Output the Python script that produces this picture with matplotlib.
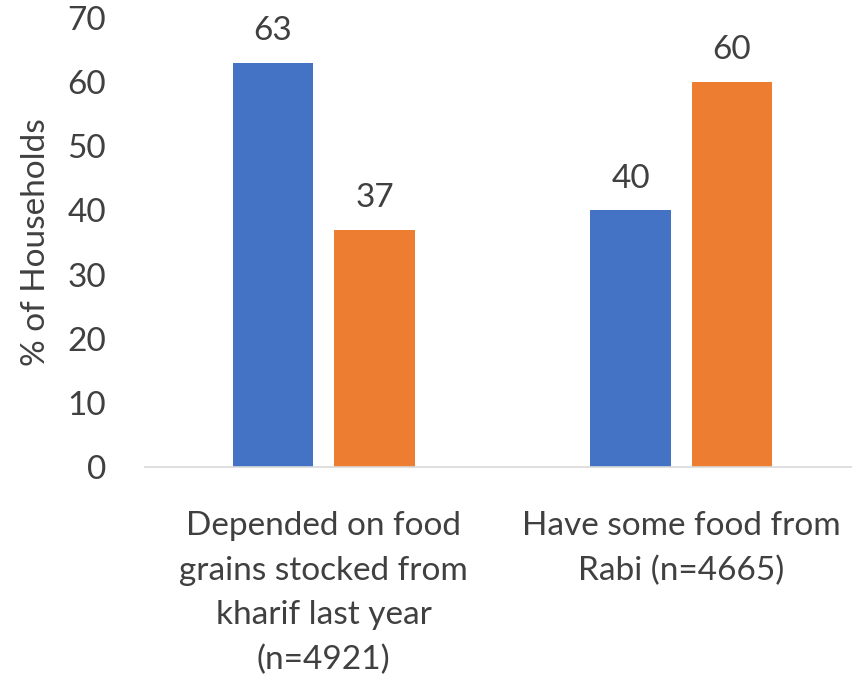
import matplotlib
matplotlib.use("Agg")
import matplotlib.pyplot as plt
import numpy as np

categories = ["Depended on food\ngrains stocked from\nkharif last year\n(n=4921)",
              "Have some food from\nRabi (n=4665)"]
series_a = [63, 40]
series_b = [37, 60]
colors = ["#4472C4", "#ED7D31"]
yticks = [0, 10, 20, 30, 40, 50, 60, 70]

plt.rcParams['font.family'] = ['Lato', 'DejaVu Sans']
FS = 24
TC = '#404040'

fig = plt.figure(figsize=(8.53, 6.84), dpi=100)
ax = fig.add_axes([145/853, 1-467/684, 715/853, (467-18)/684])

x = np.arange(len(categories))
w = 0.224
gap = 0.06
b1 = ax.bar(x - (w+gap)/2, series_a, w, color=colors[0])
b2 = ax.bar(x + (w+gap)/2, series_b, w, color=colors[1])
for bars in (b1, b2):
    for r in bars:
        ax.annotate(f"{r.get_height():g}", (r.get_x()+r.get_width()/2, r.get_height()),
                    xytext=(0, 12), textcoords='offset points',
                    ha='center', va='bottom', fontsize=FS, color=TC)

ax.set_xlim(-0.5, 1.5)
ax.set_ylim(0, 70)
ax.set_yticks(yticks)
ax.set_yticklabels([str(t) for t in yticks], fontsize=FS, color=TC)
ax.set_xticks(x)
ax.set_xticklabels(categories, fontsize=FS, color=TC, linespacing=1.6)
ax.tick_params(axis='both', length=0)
ax.tick_params(axis='x', pad=32)
ax.tick_params(axis='y', pad=28)
for s in ['top', 'right', 'left']:
    ax.spines[s].set_visible(False)
ax.spines['bottom'].set_color('#D9D9D9')
ax.spines['bottom'].set_linewidth(1.2)
ax.set_ylabel("% of Households", fontsize=FS, color=TC, labelpad=12)

fig.savefig("out.png", dpi=100)
